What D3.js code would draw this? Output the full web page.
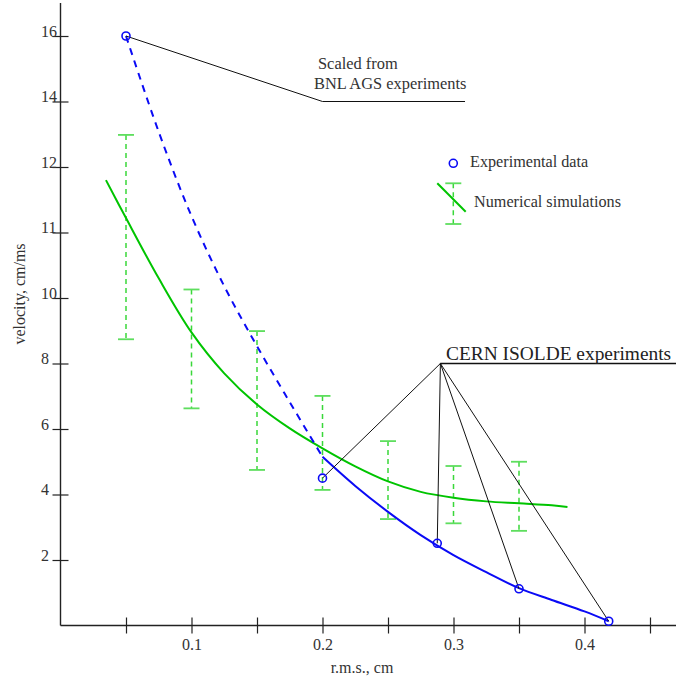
<!DOCTYPE html>
<html>
<head>
<meta charset="utf-8">
<script src="https://cdn.jsdelivr.net/npm/d3@7"></script>
<style>
  body { margin: 0; background: #fff; }
  svg { display: block; font-family: "Liberation Serif", "Times New Roman", serif; }
</style>
</head>
<body>
<div id="chart-area"></div>
<script>
const W = 676;
const H = 681;

// ticks
const xTicks = [0.05, 0.1, 0.15, 0.2, 0.25, 0.3, 0.35, 0.4, 0.45];
const xTickLabels = ["", "0.1", "", "0.2", "", "0.3", "", "0.4", ""];
const yTicks = [16, 14, 12, 11, 10, 8, 6, 4, 2];
// the printed y axis is not linear: equal steps carry these labels
const yStops = [0, 2, 4, 6, 8, 10, 11, 12, 14, 16];

// experimental data (blue circles)
const expX = [0.05, 0.2, 0.2876, 0.35, 0.4185];
const expY = [16, 4.5, 2.51, 1.12, 0.13];

// blue fit, dashed part (scaled from BNL AGS) and solid part
const fitDashX = [0.05, 0.075, 0.1, 0.125, 0.15, 0.175, 0.2];
const fitDashY = [16, 13.07, 11.25, 10.18, 8.53, 6.82, 5.15];
const fitSolidX = [0.2, 0.225, 0.25, 0.275, 0.3, 0.325, 0.35, 0.375, 0.4, 0.4185];
const fitSolidY = [5.15, 4.26, 3.47, 2.76, 2.15, 1.63, 1.14, 0.78, 0.43, 0.13];

// numerical simulations: green curve
const simX = [0.0347, 0.05, 0.075, 0.1, 0.125, 0.15, 0.175, 0.2, 0.225, 0.25, 0.275, 0.3, 0.325, 0.35, 0.375, 0.387];
const simY = [11.8, 11.22, 10.3, 8.95, 7.7, 6.75, 6.02, 5.41, 4.86, 4.4, 4.08, 3.9, 3.79, 3.73, 3.67, 3.62];

// numerical simulations: error bars
const barX = [0.05, 0.1, 0.15, 0.2, 0.25, 0.3, 0.35];
const barHi = [12.98, 10.13, 8.99, 7.01, 5.63, 4.87, 5.0];
const barLo = [8.74, 6.63, 4.75, 4.14, 3.25, 3.12, 2.89];

const blue = "#0a0af5";
const green = "#00c400";
const barGreen = "#3ad83a";
const capGreen = "#5ede5e";
const ink = "#222";

const svg = d3.select("#chart-area").append("svg")
  .attr("width", W)
  .attr("height", H);

// scales
const x = d3.scaleLinear().domain([0, 0.45]).range([60.5, 650]);
const yBase = 625.5;
const yStep = 65.5;
const y = d3.scaleLinear()
  .domain(yStops)
  .range(yStops.map((d, i) => yBase - i * yStep));

// axes
const xAxis = svg.append("g")
  .attr("transform", `translate(0, ${yBase})`)
  .call(d3.axisBottom(x).tickValues(xTicks).tickSize(8).tickFormat((d, i) => xTickLabels[i]));
xAxis.select(".domain").remove();
xAxis.selectAll(".tick line").attr("y1", -8).attr("stroke", ink).attr("stroke-width", 1.2);
xAxis.selectAll(".tick text")
  .attr("y", 24.5).attr("dy", 0)
  .attr("font-size", 16).attr("font-family", "Liberation Serif").attr("fill", "#333");

const yAxis = svg.append("g")
  .attr("transform", `translate(${x(0)}, 0)`)
  .call(d3.axisLeft(y).tickValues(yTicks).tickSize(8).tickFormat(d3.format("d")));
yAxis.select(".domain").remove();
yAxis.selectAll(".tick line").attr("x1", 8).attr("stroke", ink).attr("stroke-width", 1.2);
yAxis.selectAll(".tick text")
  .attr("x", -19.5).attr("dy", 0)
  .attr("text-anchor", "start")
  .attr("font-size", 16).attr("font-family", "Liberation Serif").attr("fill", "#333");

svg.append("line")
  .attr("x1", x(0)).attr("x2", W)
  .attr("y1", yBase).attr("y2", yBase)
  .attr("stroke", ink).attr("stroke-width", 1.4);
svg.append("line")
  .attr("x1", x(0)).attr("x2", x(0))
  .attr("y1", 3).attr("y2", yBase)
  .attr("stroke", ink).attr("stroke-width", 1.4);

// axis titles
svg.append("text")
  .attr("x", 362).attr("y", 673)
  .attr("text-anchor", "middle")
  .attr("font-size", 16).attr("fill", "#333")
  .text("r.m.s., cm");
svg.append("text")
  .attr("transform", "translate(25, 294) rotate(-90)")
  .attr("text-anchor", "middle")
  .attr("font-size", 16).attr("fill", "#333")
  .text("velocity, cm/ms");

const line = d3.line()
  .x((d) => x(d[0]))
  .y((d) => y(d[1]))
  .curve(d3.curveCatmullRom.alpha(0.5));

// error bars
const bars = svg.append("g");
barX.forEach((bx, i) => {
  bars.append("line")
    .attr("x1", x(bx)).attr("x2", x(bx))
    .attr("y1", y(barHi[i])).attr("y2", y(barLo[i]))
    .attr("stroke", barGreen).attr("stroke-width", 1.5)
    .attr("stroke-dasharray", "5,4");
  [barHi[i], barLo[i]].forEach((v) => {
    bars.append("line")
      .attr("x1", x(bx) - 8).attr("x2", x(bx) + 8)
      .attr("y1", y(v)).attr("y2", y(v))
      .attr("stroke", capGreen).attr("stroke-width", 1.8);
  });
});

// simulation curve
svg.append("path")
  .datum(simX.map((d, i) => [d, simY[i]]))
  .attr("d", line)
  .attr("fill", "none")
  .attr("stroke", green).attr("stroke-width", 2);

// blue fit
svg.append("path")
  .datum(fitDashX.map((d, i) => [d, fitDashY[i]]))
  .attr("d", line)
  .attr("fill", "none")
  .attr("stroke", blue).attr("stroke-width", 2)
  .attr("stroke-dasharray", "7,6");
svg.append("path")
  .datum(fitSolidX.map((d, i) => [d, fitSolidY[i]]))
  .attr("d", line)
  .attr("fill", "none")
  .attr("stroke", blue).attr("stroke-width", 2);

// annotations
const note = svg.append("g").attr("stroke", "#111").attr("stroke-width", 1).attr("fill", "none");
note.append("polyline")
  .attr("points", [[x(0.05), y(16)], [x(0.2), y(14)], [x(0.3088), y(14)]].join(" "));
const cern = [x(0.29), y(8)];
note.append("line")
  .attr("x1", cern[0]).attr("x2", W)
  .attr("y1", cern[1]).attr("y2", cern[1])
  .attr("stroke-width", 1.4);
expX.slice(1).forEach((ex, i) => {
  note.append("line")
    .attr("x1", cern[0]).attr("y1", cern[1])
    .attr("x2", x(ex)).attr("y2", y(expY[i + 1]));
});

svg.append("text")
  .attr("x", 318).attr("y", 68.5)
  .attr("font-size", 16.4).attr("fill", "#333")
  .text("Scaled from");
svg.append("text")
  .attr("x", 314).attr("y", 88.5)
  .attr("font-size", 16.4).attr("fill", "#333")
  .text("BNL AGS experiments");
svg.append("text")
  .attr("x", 446).attr("y", 359.5)
  .attr("font-size", 19.4).attr("fill", "#222")
  .text("CERN ISOLDE experiments");

// experimental points
svg.append("g").selectAll("circle")
  .data(expX.map((d, i) => [d, expY[i]]))
  .join("circle")
  .attr("cx", (d) => x(d[0]))
  .attr("cy", (d) => y(d[1]))
  .attr("r", 4)
  .attr("fill", "none")
  .attr("stroke", blue).attr("stroke-width", 1.6);

// legend
const legend = svg.append("g");
legend.append("circle")
  .attr("cx", 453.3).attr("cy", 163.3).attr("r", 4)
  .attr("fill", "none").attr("stroke", blue).attr("stroke-width", 1.6);
legend.append("text")
  .attr("x", 470).attr("y", 166.7)
  .attr("font-size", 16.2).attr("fill", "#333")
  .text("Experimental data");
legend.append("line")
  .attr("x1", 453.3).attr("x2", 453.3).attr("y1", 183.3).attr("y2", 224)
  .attr("stroke", barGreen).attr("stroke-width", 1.5).attr("stroke-dasharray", "5,4");
[183.3, 224].forEach((ly) => {
  legend.append("line")
    .attr("x1", 445.3).attr("x2", 461.3).attr("y1", ly).attr("y2", ly)
    .attr("stroke", capGreen).attr("stroke-width", 1.8);
});
legend.append("line")
  .attr("x1", 437.3).attr("y1", 183.3).attr("x2", 465.7).attr("y2", 211.7)
  .attr("stroke", green).attr("stroke-width", 2);
legend.append("text")
  .attr("x", 474).attr("y", 206.7)
  .attr("font-size", 16.2).attr("fill", "#333")
  .text("Numerical simulations");
</script>
</body>
</html>
